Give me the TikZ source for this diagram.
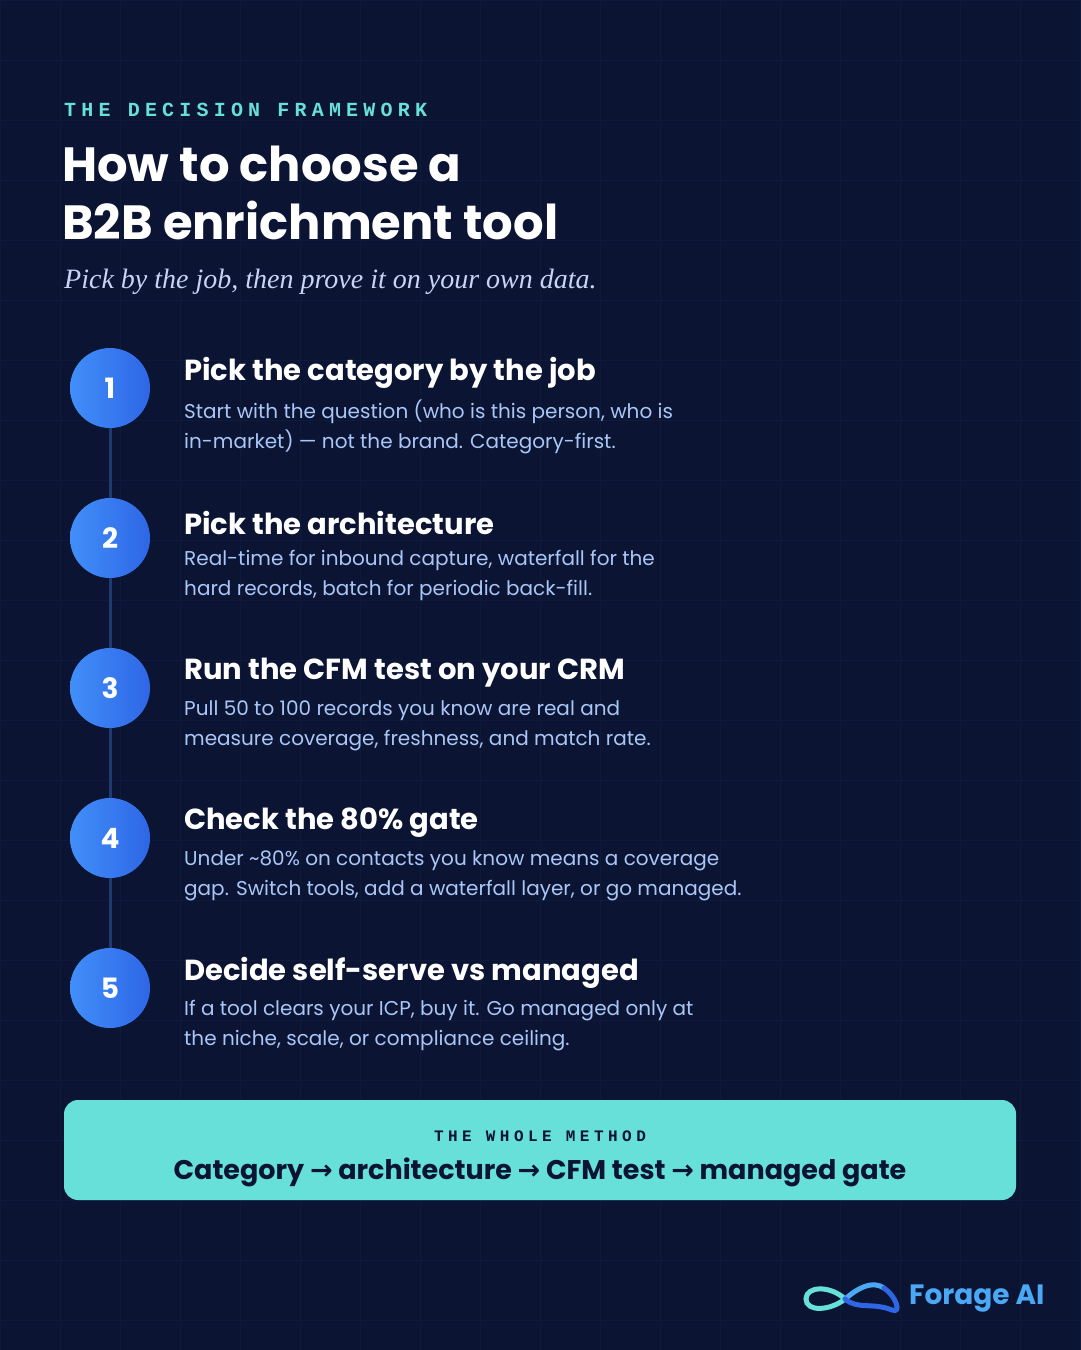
\documentclass[tikz,border=0pt]{standalone}
\usepackage{fontspec}
\setmainfont{Poppins}
\newfontfamily\hfont{Poppins}
\newfontfamily\mfont{Liberation Mono}
\newfontfamily\sfont{Liberation Serif}
\newfontfamily\dfont{DejaVu Sans}
\definecolor{bg}{HTML}{0B1433}
\definecolor{gridc}{HTML}{0F1A3B}
\definecolor{teal}{HTML}{66E0D8}
\definecolor{body}{HTML}{A9C6F7}
\definecolor{lilac}{HTML}{C9D4F5}
\definecolor{cl}{HTML}{418FF9}
\definecolor{cr}{HTML}{2E66E6}
\definecolor{rail}{HTML}{1F3A70}
\definecolor{dark}{HTML}{0B1433}
\definecolor{logob}{HTML}{4AA8F5}
\tikzset{
 x=1pt,y=-1pt,
 numc/.style={circle,minimum size=80pt,inner sep=0pt,left color=cl,right color=cr,text=white,font=\hfont\bfseries\fontsize{28}{28}\selectfont},
 head/.style={anchor=west,inner sep=0pt,text=white,font=\hfont\bfseries\fontsize{29}{29}\selectfont},
 bodyt/.style={anchor=north west,inner sep=0pt,text=body,align=left,font=\hfont\fontsize{20}{30}\selectfont},
}
\begin{document}
\begin{tikzpicture}
\fill[bg] (0,0) rectangle (1080,1350);
\useasboundingbox (0,0) rectangle (1080,1350);
\foreach \i in {0,60,...,1080} \draw[gridc,line width=0.8pt] (\i,0) -- (\i,1350);
\foreach \i in {0,60,...,1350} \draw[gridc,line width=0.8pt] (0,\i) -- (1080,\i);
\node[anchor=west,inner sep=0pt,text=teal,font=\mfont\bfseries\fontsize{20}{20}\selectfont\addfontfeature{LetterSpace=26}] (kick) at (64,110) {THE DECISION FRAMEWORK};
\node[anchor=north west,inner sep=0pt,text=white,align=left,font=\hfont\bfseries\fontsize{48}{58}\selectfont] (title) at (62,146) {How to choose a\\B2B enrichment tool};
\node[anchor=west,inner sep=0pt,text=lilac,font=\sfont\itshape\fontsize{28}{28}\selectfont] (sub) at (64,282) {Pick by the job, then prove it on your own data.};
\foreach \k/\y in {1/388,2/538,3/688,4/838}{
 \draw[rail,line width=3pt] (110,\y+40) -- (110,\y+110);
}
\foreach \k/\y/\h/\a/\b in {
1/388/{Pick the category by the job}/{Start with the question (who is this person, who is}/{in-market) — not the brand. Category-first.},
2/538/{Pick the architecture}/{Real-time for inbound capture, waterfall for the}/{hard records, batch for periodic back-fill.},
3/688/{Run the CFM test on your CRM}/{Pull 50 to 100 records you know are real and}/{measure coverage, freshness, and match rate.},
4/838/{Check the 80\% gate}/{Under \textasciitilde80\% on contacts you know means a coverage}/{gap. Switch tools, add a waterfall layer, or go managed.},
5/988/{Decide self-serve vs managed}/{If a tool clears your ICP, buy it. Go managed only at}/{the niche, scale, or compliance ceiling.}}{
 \node[numc] (n\k) at (110,\y) {\k};
 \node[head] (h\k) at (184,\y-15) {\h};
 \node[bodyt] (b\k) at (184,\y+12) {\a\\\b};
}
\fill[teal,rounded corners=14pt] (64,1100) rectangle (1016,1200);
\node[inner sep=0pt,text=dark,font=\mfont\bfseries\fontsize{16}{16}\selectfont\addfontfeature{LetterSpace=28}] (wm) at (540,1136) {THE WHOLE METHOD};
\node[inner sep=0pt,text=dark,font=\hfont\bfseries\fontsize{27}{27}\selectfont] (meth) at (540,1172) {Category {\dfont→} architecture {\dfont→} CFM test {\dfont→} managed gate};
\begin{scope}[line width=5pt,line cap=round]
\draw[teal] (845,1299) .. controls (830,1285) and (806,1286) .. (806,1299) .. controls (806,1312) and (830,1311) .. (845,1299);
\draw[logob] (845,1299) .. controls (858,1288) and (872,1280) .. (884,1288);
\draw[cr] (884,1288) .. controls (896,1296) and (902,1314) .. (892,1310) .. controls (872,1302) and (858,1310) .. (845,1299);
\end{scope}
\node[anchor=west,inner sep=0pt,text=logob,font=\hfont\bfseries\fontsize{28}{28}\selectfont] (logo) at (909,1299) {Forage AI};
\end{tikzpicture}
\end{document}
